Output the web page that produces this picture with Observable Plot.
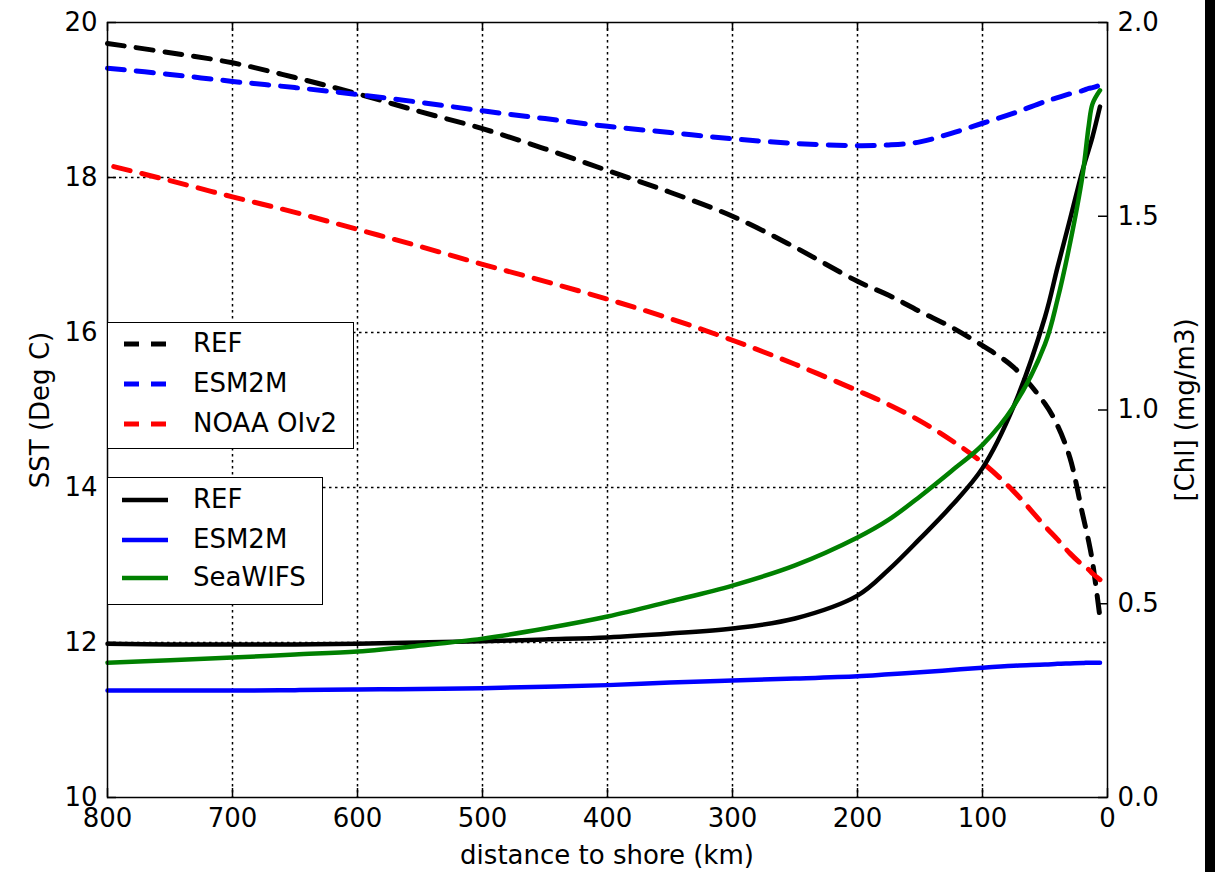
<!DOCTYPE html>
<html>
<head>
<meta charset="utf-8">
<script src="https://cdn.jsdelivr.net/npm/d3@7"></script>
<script src="https://cdn.jsdelivr.net/npm/@observablehq/plot@0.6"></script>
<style>
  body { margin: 0; background: #fff; font-family: "DejaVu Sans", sans-serif; }
  #wrap { position: relative; width: 1215px; height: 872px; overflow: hidden; background: #fff; }
  #chart { position: absolute; left: 0; top: 0; }
  .lab { position: absolute; font-size: 26px; line-height: 30px; white-space: nowrap; color: #000; transform: translate(-50%, -50%); }
  .lab.rot { transform: translate(-50%, -50%) rotate(-90deg); }
  .legend { position: absolute; border: 1.5px solid #000; background: #fff; box-sizing: border-box; }
  .row { position: absolute; left: 0; height: 30px; width: 100%; }
  .row svg { position: absolute; left: 14px; top: 13px; }
  .row span { position: absolute; left: 85px; top: 0; font-size: 26px; line-height: 30px; white-space: nowrap; }
  #strip { position: absolute; left: 1205px; top: 0; width: 10px; height: 872px; background: #000; }
</style>
</head>
<body>
<div id="wrap">
  <div id="chart"></div>
  <div class="lab rot" style="left:40px; top:410px;">SST (Deg C)</div>
  <div class="lab rot" style="left:1185px; top:410px;">[Chl] (mg/m3)</div>
  <div class="lab" style="left:607px; top:855px;">distance to shore (km)</div>
  <div class="legend" id="leg1" style="left:107px; top:322px; width:247px; height:127px;"></div>
  <div class="legend" id="leg2" style="left:107px; top:477px; width:216px; height:128px;"></div>
  <div id="strip"></div>
</div>
<script>
// ---------- data ----------
const distance = [800, 750, 700, 650, 600, 550, 500, 450, 400, 350, 300, 250, 200, 175, 150, 125, 100, 75, 50, 40, 30, 20, 15, 12, 6];
const noaaDistance = [795, 750, 700, 650, 600, 550, 500, 450, 400, 350, 300, 250, 200, 175, 150, 125, 100, 75, 50, 40, 30, 20, 15, 12, 6];

// SST (Deg C), left axis, dashed
const sstREF   = [19.73, 19.61, 19.48, 19.29, 19.08, 18.85, 18.63, 18.37, 18.09, 17.81, 17.50, 17.10, 16.66, 16.48, 16.27, 16.07, 15.83, 15.55, 15.08, 14.80, 14.38, 13.66, 13.30, 13.04, 12.32];
const sstESM2M = [19.41, 19.33, 19.24, 19.16, 19.07, 18.97, 18.86, 18.76, 18.66, 18.58, 18.50, 18.44, 18.41, 18.42, 18.46, 18.57, 18.70, 18.83, 18.98, 19.03, 19.08, 19.12, 19.15, 19.16, 19.19];
const sstNOAA  = [18.14, 17.96, 17.75, 17.55, 17.33, 17.11, 16.88, 16.66, 16.43, 16.18, 15.90, 15.59, 15.25, 15.07, 14.86, 14.61, 14.32, 13.95, 13.50, 13.33, 13.15, 13.00, 12.94, 12.89, 12.81];

// [Chl] (mg/m3), right axis, solid
const chlREF     = [0.397, 0.395, 0.395, 0.395, 0.397, 0.400, 0.403, 0.408, 0.413, 0.423, 0.436, 0.462, 0.521, 0.588, 0.668, 0.752, 0.850, 1.010, 1.240, 1.368, 1.492, 1.618, 1.672, 1.705, 1.783];
const chlESM2M   = [0.276, 0.276, 0.276, 0.277, 0.279, 0.280, 0.282, 0.286, 0.290, 0.297, 0.302, 0.307, 0.313, 0.318, 0.323, 0.329, 0.335, 0.340, 0.343, 0.345, 0.346, 0.347, 0.348, 0.348, 0.348];
const chlSeaWIFS = [0.348, 0.354, 0.361, 0.369, 0.377, 0.392, 0.410, 0.436, 0.467, 0.506, 0.547, 0.599, 0.671, 0.717, 0.777, 0.842, 0.910, 1.010, 1.170, 1.285, 1.430, 1.605, 1.734, 1.790, 1.825];

// ticks
const xTicks = [800, 700, 600, 500, 400, 300, 200, 100, 0];
const sstTicks = [10, 12, 14, 16, 18, 20];
const sstGrid = [12, 14, 16, 18];
const chlTicks = [0.0, 0.5, 1.0, 1.5, 2.0];

// series meta
const dashedSeries = [
  {name: "REF", color: "#000000", x: distance, y: sstREF},
  {name: "ESM2M", color: "#0000ff", x: distance, y: sstESM2M},
  {name: "NOAA OIv2", color: "#ff0000", x: noaaDistance, y: sstNOAA}
];
const solidSeries = [
  {name: "REF", color: "#000000", y: chlREF},
  {name: "ESM2M", color: "#0000ff", y: chlESM2M},
  {name: "SeaWIFS", color: "#008000", y: chlSeaWIFS}
];

// right axis (chl 0..2) shares the frame with left axis (SST 10..20)
const chlMin = 0, chlMax = 2, sstMin = 10, sstMax = 20;
const chlToSst = c => sstMin + (c - chlMin) * (sstMax - sstMin) / (chlMax - chlMin);

const sstRows = dashedSeries.flatMap(s => s.x.map((d, i) => ({series: s.name, color: s.color, d, v: s.y[i]})));
const chlRows = solidSeries.flatMap(s => distance.map((d, i) => ({series: s.name, color: s.color, d, v: chlToSst(s.y[i])})));

const W = 1215, H = 872;
const mL = 107, mR = 108, mT = 22, mB = 75;
const frameW = W - mL - mR, frameH = H - mT - mB;
const tickLen = 9;
const gridStyle = {stroke: "#000", strokeWidth: 1.5, strokeDasharray: "2.5,3.5"};

const chart = Plot.plot({
  width: W,
  height: H,
  marginLeft: mL,
  marginRight: mR,
  marginTop: mT,
  marginBottom: mB,
  style: {fontFamily: "DejaVu Sans, sans-serif", fontSize: "26px", color: "#000", background: "transparent"},
  x: {domain: [800, 0], axis: null},
  y: {domain: [sstMin, sstMax], axis: null},
  marks: [
    // grid
    Plot.ruleX(xTicks.filter(t => t !== 800 && t !== 0), {x: d => d, ...gridStyle}),
    Plot.ruleY(sstGrid, {y: d => d, ...gridStyle}),
    // SST dashed lines
    ...dashedSeries.map(s => Plot.line(sstRows.filter(r => r.series === s.name), {
      x: "d", y: "v", stroke: s.color, strokeWidth: 5, strokeDasharray: "17,12", curve: "catmull-rom"
    })),
    // Chl solid lines
    ...solidSeries.map(s => Plot.line(chlRows.filter(r => r.series === s.name), {
      x: "d", y: "v", stroke: s.color, strokeWidth: 4.5, curve: "catmull-rom"
    })),
    // inward ticks
    Plot.tickX(xTicks, {x: d => d, stroke: "#000", strokeWidth: 1.5, insetTop: frameH - tickLen}),
    Plot.tickX(xTicks, {x: d => d, stroke: "#000", strokeWidth: 1.5, insetBottom: frameH - tickLen}),
    Plot.tickY(sstTicks, {y: d => d, stroke: "#000", strokeWidth: 1.5, insetRight: frameW - tickLen}),
    Plot.tickY(chlTicks.map(chlToSst), {y: d => d, stroke: "#000", strokeWidth: 1.5, insetLeft: frameW - tickLen}),
    Plot.frame({stroke: "#000", strokeWidth: 1.5}),
    // tick labels
    Plot.axisX({ticks: xTicks, tickSize: 0, tickPadding: 11, tickFormat: d => String(d), label: null, fontSize: 26}),
    Plot.axisY({anchor: "left", ticks: sstTicks, tickSize: 0, tickPadding: 10, tickFormat: d => String(d), label: null, fontSize: 26}),
    Plot.axisY({anchor: "right", ticks: chlTicks.map(chlToSst), tickSize: 0, tickPadding: 10,
      tickFormat: d => ((d - sstMin) * (chlMax - chlMin) / (sstMax - sstMin) + chlMin).toFixed(1), label: null, fontSize: 26})
  ]
});
document.getElementById("chart").appendChild(chart);

// legends
function buildLegend(el, items, dashed, rowTops) {
  items.forEach((s, i) => {
    const row = document.createElement("div");
    row.className = "row";
    row.style.top = rowTops[i] + "px";
    const sw = dashed ? 5 : 4.5;
    const dash = dashed ? 'stroke-dasharray="15,12" stroke-dashoffset="-2"' : "";
    row.innerHTML = `<svg width="46" height="6"><line x1="0" y1="3" x2="46" y2="3" stroke="${s.color}" stroke-width="${sw}" ${dash}/></svg><span>${s.name}</span>`;
    el.appendChild(row);
  });
}
buildLegend(document.getElementById("leg1"), dashedSeries, true, [5, 45, 85]);
buildLegend(document.getElementById("leg2"), solidSeries, false, [6, 46, 84]);
</script>
</body>
</html>
